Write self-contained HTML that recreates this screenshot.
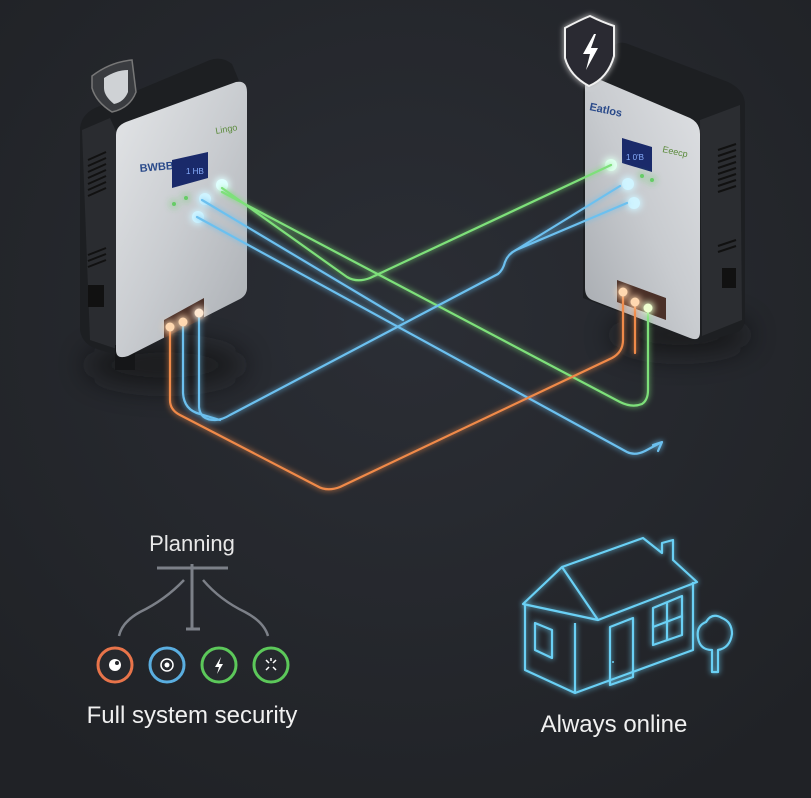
<!DOCTYPE html>
<html><head><meta charset="utf-8"><style>
html,body{margin:0;padding:0;background:#25282e;}
svg{display:block}
text{font-family:"Liberation Sans","DejaVu Sans",sans-serif;}
</style></head><body>
<svg width="811" height="798" viewBox="0 0 811 798" xmlns="http://www.w3.org/2000/svg">
<defs>
<radialGradient id="bg" cx="50%" cy="40%" r="70%">
<stop offset="0" stop-color="#2b2e35"/><stop offset="1" stop-color="#202226"/></radialGradient>
<linearGradient id="silver" x1="0" y1="0" x2="1" y2="1">
<stop offset="0" stop-color="#e4e6e8"/><stop offset="0.5" stop-color="#c9ccd0"/><stop offset="1" stop-color="#a9adb2"/></linearGradient>
<linearGradient id="silver2" x1="1" y1="0" x2="0" y2="1">
<stop offset="0" stop-color="#dfe1e4"/><stop offset="0.5" stop-color="#c8cbcf"/><stop offset="1" stop-color="#a6aaaf"/></linearGradient>
<filter id="glow" x="-20%" y="-20%" width="140%" height="140%">
<feGaussianBlur stdDeviation="3" result="b"/><feMerge><feMergeNode in="b"/><feMergeNode in="SourceGraphic"/></feMerge></filter>
<filter id="glow2" x="-100%" y="-100%" width="300%" height="300%">
<feGaussianBlur stdDeviation="4" result="b"/><feMerge><feMergeNode in="b"/><feMergeNode in="b"/><feMergeNode in="SourceGraphic"/></feMerge></filter>
<filter id="blur8" x="-50%" y="-100%" width="200%" height="300%"><feGaussianBlur stdDeviation="14"/></filter>
</defs>
<rect width="811" height="798" fill="url(#bg)"/>

<!-- shadows -->
<ellipse cx="165" cy="365" rx="80" ry="22" fill="#121315" opacity="0.7" filter="url(#blur8)"/>
<ellipse cx="680" cy="335" rx="70" ry="20" fill="#121315" opacity="0.7" filter="url(#blur8)"/>

<!-- LEFT DEVICE -->
<path d="M80 128 Q82 112 100 106 L210 60 Q222 56 232 64 L247 100 L247 293 L125 357 L100 350 Q82 345 80 330 Z" fill="#1d1f22"/>
<path d="M82 130 L110 118 L120 140 L120 350 L90 340 Z" fill="#2a2c30"/>
<g stroke="#111" stroke-width="2">
<line x1="88" y1="160" x2="106" y2="152"/><line x1="88" y1="166" x2="106" y2="158"/><line x1="88" y1="172" x2="106" y2="164"/><line x1="88" y1="178" x2="106" y2="170"/><line x1="88" y1="184" x2="106" y2="176"/><line x1="88" y1="190" x2="106" y2="182"/><line x1="88" y1="196" x2="106" y2="188"/>
<line x1="88" y1="255" x2="106" y2="248"/><line x1="88" y1="261" x2="106" y2="254"/><line x1="88" y1="267" x2="106" y2="260"/></g>
<rect x="88" y="285" width="16" height="22" fill="#111"/>
<rect x="115" y="345" width="20" height="25" fill="#151618"/>
<path d="M116 135 Q116 126 126 122 L236 82 Q247 80 247 92 L247 288 Q247 296 238 300 L128 356 Q116 360 116 350 Z" fill="url(#silver)"/>
<text x="140" y="172" font-size="11" fill="#2a4a8a" font-weight="bold" transform="rotate(-5 140 172)">BWBB</text>
<text x="216" y="134" font-size="9" fill="#5a8a3a" transform="rotate(-10 216 134)">Lingo</text>
<path d="M172 160 L208 152 L208 178 L172 188 Z" fill="#1a2a6a"/>
<text x="186" y="174" font-size="8" fill="#8ab0ff">1 HB</text>
<g filter="url(#glow2)">
<circle cx="222" cy="185" r="6" fill="#e0ffff"/><circle cx="205" cy="199" r="6" fill="#d0f4ff"/><circle cx="198" cy="217" r="6" fill="#d0f4ff"/>
<circle cx="174" cy="204" r="2" fill="#6c6"/><circle cx="186" cy="198" r="2" fill="#6c6"/></g>
<path d="M164 320 L204 298 L204 318 L164 338 Z" fill="#4a3028"/>

<!-- left shield -->
<path d="M92 76 Q110 62 132 60 L136 92 Q130 108 112 112 Q96 102 92 88 Z" fill="#3a3c40" stroke="#777" stroke-width="1.5"/>
<path d="M104 78 Q116 70 128 70 L128 92 Q124 102 114 104 Q104 96 104 88 Z" fill="#cfd2d5"/>

<!-- RIGHT DEVICE -->
<path d="M612 48 Q618 40 628 44 L728 82 Q745 90 745 105 L745 318 Q745 330 735 333 L700 343 L583 298 L583 80 Z" fill="#1d1f22"/>
<path d="M700 120 L740 105 L742 320 L702 336 Z" fill="#2b2d31"/>
<g stroke="#111" stroke-width="2">
<line x1="718" y1="150" x2="736" y2="144"/><line x1="718" y1="156" x2="736" y2="150"/><line x1="718" y1="162" x2="736" y2="156"/><line x1="718" y1="168" x2="736" y2="162"/><line x1="718" y1="174" x2="736" y2="168"/><line x1="718" y1="180" x2="736" y2="174"/><line x1="718" y1="186" x2="736" y2="180"/><line x1="718" y1="192" x2="736" y2="186"/>
<line x1="718" y1="246" x2="736" y2="240"/><line x1="718" y1="252" x2="736" y2="246"/></g>
<rect x="722" y="268" width="14" height="20" fill="#111"/>
<path d="M585 86 Q585 74 596 78 L690 118 Q700 123 700 134 L700 332 Q700 342 690 338 L592 300 Q585 297 585 288 Z" fill="url(#silver2)"/>
<text x="589" y="110" font-size="11" fill="#2a4a8a" font-weight="bold" transform="rotate(12 589 110)">Eatlos</text>
<text x="662" y="152" font-size="9" fill="#5a8a3a" transform="rotate(12 662 152)">Eeecp</text>
<path d="M622 138 L652 147 L652 172 L622 163 Z" fill="#1a2a6a"/>
<text x="626" y="160" font-size="8" fill="#8ab0ff">1 0'B</text>
<g filter="url(#glow2)">
<circle cx="611" cy="165" r="6" fill="#e0fff0"/><circle cx="628" cy="184" r="6" fill="#d0f4ff"/><circle cx="634" cy="203" r="6" fill="#d0f4ff"/>
<circle cx="642" cy="176" r="2" fill="#6c6"/><circle cx="652" cy="180" r="2" fill="#6c6"/></g>
<path d="M617 280 L666 298 L666 320 L617 302 Z" fill="#4a3028"/>
<!-- right shield -->
<g filter="url(#glow)">
<path d="M565 28 Q580 20 590 16 Q602 22 614 26 L614 56 Q608 78 589 86 Q570 76 565 58 Z" fill="#2a2c30" stroke="#f0f0f0" stroke-width="2"/>
<path d="M594 34 L583 54 L590 54 L586 70 L598 48 L591 48 L596 34 Z" fill="#fff"/></g>

<!-- CONNECTORS -->
<g fill="none" stroke-width="2.2" stroke-linecap="round" stroke-linejoin="round" filter="url(#glow)">
<path d="M222 188 L347 277 Q357 283 370 278 L611 165" stroke="#7ee07a"/>
<path d="M222 192 L620 402 Q632 408 642 404 Q648 400 648 390 L648 308" stroke="#7ee07a"/>
<path d="M202 200 L403 320" stroke="#6cc0ef"/>
<path d="M197 217 L627 452 Q635 456 645 451 L660 443" stroke="#6cc0ef"/>
<path d="M653 445 L662 442 L658 451" stroke="#6cc0ef"/>
<path d="M199 313 L199 407 Q200 420 215 420 Q222 420 230 415 L498 274 Q503 270 505 262 Q508 254 516 250 L627 203" stroke="#6cc0ef"/>
<path d="M183 322 L183 393 Q184 410 200 414 L220 420" stroke="#6cc0ef"/>
<path d="M516 250 L620 186" stroke="#6cc0ef"/>
<path d="M170 327 L170 400 Q170 410 180 415 L317 486 Q327 492 340 487 L612 358 Q623 352 623 340 L623 292" stroke="#f08a4a"/>
<path d="M635 302 L635 353" stroke="#f08a4a"/>
</g>
<g filter="url(#glow2)">
<circle cx="170" cy="327" r="4.5" fill="#ffd8b0"/><circle cx="183" cy="322" r="4.5" fill="#ffd8b0"/><circle cx="199" cy="313" r="4.5" fill="#ffe8d0"/>
<circle cx="623" cy="292" r="4.5" fill="#ffd8b0"/><circle cx="635" cy="302" r="4.5" fill="#ffd8b0"/><circle cx="648" cy="308" r="4.5" fill="#efffd0"/>
</g>

<!-- PLANNING -->
<text x="192" y="551" font-size="22" fill="#e8e8e8" text-anchor="middle">Planning</text>
<g stroke="#7c8088" stroke-width="3" fill="none">
<line x1="157" y1="568" x2="228" y2="568"/><line x1="192" y1="564" x2="192" y2="628"/><line x1="186" y1="629" x2="200" y2="629"/>
<path d="M184 580 Q165 600 140 612 Q122 622 119 636" stroke-width="2.5"/>
<path d="M203 580 Q220 600 245 612 Q264 622 268 636" stroke-width="2.5"/>
</g>
<g stroke-width="3" fill="#26292e">
<circle cx="115" cy="665" r="17" stroke="#e8744a"/>
<circle cx="167" cy="665" r="17" stroke="#5aaee0"/>
<circle cx="219" cy="665" r="17" stroke="#5cc85a"/>
<circle cx="271" cy="665" r="17" stroke="#5cc85a"/>
</g>
<circle cx="115" cy="665" r="6" fill="#fff"/><circle cx="117" cy="663" r="2" fill="#26292e"/>
<circle cx="167" cy="665" r="6" fill="none" stroke="#fff" stroke-width="1.5"/><circle cx="167" cy="665" r="2.5" fill="#fff"/>
<path d="M221 657 L215 667 L219 667 L217 674 L223 664 L219 664 Z" fill="#fff"/>
<g stroke="#fff" stroke-width="1.5"><line x1="266" y1="660" x2="269" y2="663"/><line x1="276" y1="660" x2="273" y2="663"/><line x1="266" y1="670" x2="269" y2="667"/><line x1="276" y1="670" x2="273" y2="667"/><line x1="271" y1="658" x2="271" y2="661"/></g>
<text x="192" y="723" font-size="24" fill="#f0f0f0" text-anchor="middle">Full system security</text>

<!-- HOUSE -->
<g fill="none" stroke="#6ad0f5" stroke-width="2.2" stroke-linejoin="round" filter="url(#glow)">
<path d="M523 604 L562 567 L598 620 Z"/>
<path d="M525 604 L525 670 L575 693 L575 623"/>
<path d="M575 693 L693 650 L693 582"/>
<path d="M562 567 L643 538 L662 553 L662 543 L673 540 L673 560 L697 582 L598 620"/>
<path d="M535 623 L552 630 L552 658 L535 650 Z"/>
<path d="M610 627 L633 618 L633 677 L610 685 Z"/>
<path d="M653 608 L682 596 L682 635 L653 645 Z M667 602 L667 640 M653 627 L682 616"/>
<path d="M712 672 L712 650 Q700 650 698 638 Q696 626 706 622 Q712 612 722 618 Q732 622 732 634 Q730 648 718 650 L718 672 Z"/>
</g>
<circle cx="613" cy="662" r="1" fill="#6ad0f5"/>
<text x="614" y="732" font-size="24" fill="#f0f0f0" text-anchor="middle">Always online</text>
</svg>
</body></html>
